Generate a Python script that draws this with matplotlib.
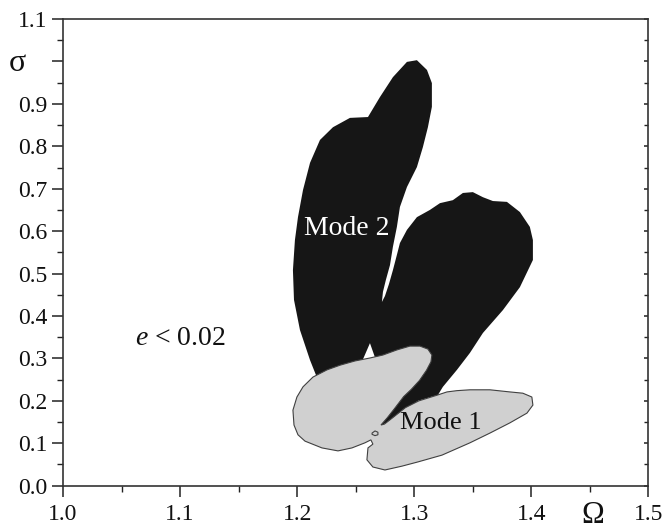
import matplotlib.pyplot as plt
from matplotlib.ticker import MultipleLocator

# region boundaries, (Omega, sigma)
mode2_omega = [1.2195, 1.211, 1.2024, 1.1973, 1.1964, 1.1981, 1.2007, 1.205, 1.211, 1.2195,
               1.2306, 1.2451, 1.2605, 1.2707, 1.2818, 1.2938, 1.3023, 1.3109, 1.3151, 1.3151,
               1.3117, 1.3074, 1.3023, 1.2938, 1.2878, 1.2852, 1.2818, 1.2793, 1.2758, 1.2733,
               1.2724, 1.275, 1.2784, 1.2818, 1.2852, 1.2878, 1.2938, 1.3023, 1.3134, 1.322,
               1.333, 1.3416, 1.3501, 1.3587, 1.3672, 1.3792, 1.3903, 1.3988, 1.4014, 1.4014,
               1.3903, 1.3758, 1.3587, 1.3476, 1.3365, 1.3245, 1.3203, 1.3032, 1.281, 1.2690,
               1.2800, 1.2950, 1.3060, 1.2878, 1.2673, 1.2622, 1.2553, 1.2365]
mode2_sigma = [0.237, 0.296, 0.367, 0.438, 0.508, 0.579, 0.633, 0.697, 0.761, 0.815,
               0.845, 0.867, 0.869, 0.916, 0.963, 0.999, 1.003, 0.980, 0.949, 0.893,
               0.845, 0.798, 0.751, 0.704, 0.657, 0.610, 0.563, 0.520, 0.485, 0.457,
               0.433, 0.447, 0.475, 0.508, 0.544, 0.572, 0.603, 0.633, 0.650, 0.666,
               0.673, 0.690, 0.692, 0.680, 0.671, 0.669, 0.645, 0.610, 0.579, 0.532,
               0.468, 0.414, 0.360, 0.313, 0.273, 0.233, 0.214, 0.200, 0.155, 0.138,
               0.190, 0.235, 0.270, 0.292, 0.296, 0.336, 0.292, 0.261]

mode1_omega = [1.2716, 1.2770, 1.2830, 1.2910, 1.2975, 1.3045, 1.3105, 1.3143, 1.3151, 1.3117,
               1.3049, 1.2963, 1.2852, 1.2733, 1.2622, 1.2494, 1.2366, 1.2255, 1.2135, 1.205,
               1.1998, 1.1964, 1.1973, 1.2007, 1.2067, 1.2212, 1.2349, 1.2468, 1.2579, 1.263,
               1.2647, 1.2605, 1.2596, 1.2647, 1.275, 1.2895, 1.3032, 1.3237, 1.3476, 1.3647,
               1.3817, 1.3963, 1.4014, 1.4005, 1.3928, 1.3817, 1.3647, 1.3476, 1.3365, 1.3280,
               1.3180, 1.3040, 1.2925, 1.2815, 1.2745]
mode1_sigma = [0.143, 0.160, 0.181, 0.210, 0.227, 0.248, 0.272, 0.292, 0.308, 0.322,
               0.329, 0.329, 0.320, 0.308, 0.301, 0.294, 0.284, 0.273, 0.256, 0.233,
               0.209, 0.178, 0.143, 0.120, 0.105, 0.089, 0.082, 0.089, 0.101, 0.108,
               0.098, 0.089, 0.061, 0.044, 0.037, 0.046, 0.056, 0.072, 0.101, 0.124,
               0.148, 0.171, 0.190, 0.209, 0.218, 0.221, 0.226, 0.226, 0.224, 0.221,
               0.212, 0.200, 0.184, 0.160, 0.145]

# tiny isolated loop near the spike tip
loop_omega = [1.2640, 1.2665, 1.2690, 1.2690, 1.2665, 1.2640]
loop_sigma = [0.124, 0.129, 0.126, 0.120, 0.118, 0.121]

serif = ['Liberation Serif', 'DejaVu Serif']
plt.rcParams['font.family'] = serif
plt.rcParams['mathtext.fontset'] = 'custom'
plt.rcParams['mathtext.it'] = 'Liberation Serif:italic'
plt.rcParams['mathtext.rm'] = 'Liberation Serif'

fig = plt.figure(figsize=(6.67, 5.29), dpi=100)
ax = fig.add_axes([0.0945, 0.0819, 0.8775, 0.8821])

ax.fill(mode2_omega, mode2_sigma, color='#161616', lw=0, zorder=2)
ax.fill(mode1_omega, mode1_sigma, facecolor='#d0d0d0', edgecolor='#404040', lw=0.8, zorder=3)
ax.fill(loop_omega, loop_sigma, facecolor='#d0d0d0', edgecolor='#404040', lw=0.8, zorder=4)

ax.text(1.2425, 0.607, 'Mode 2', color='white', fontsize=20, ha='center', va='center', zorder=5)
ax.text(1.2878, 0.148, 'Mode 1', color='#111111', fontsize=19, ha='left', va='center', zorder=5)
ax.text(1.0615, 0.346, r'$e$ < 0.02', color='#111111', fontsize=20, ha='left', va='center', zorder=5)

ax.set_xlim(1.0, 1.5)
ax.set_ylim(0.0, 1.1)
ax.xaxis.set_major_locator(MultipleLocator(0.1))
ax.xaxis.set_minor_locator(MultipleLocator(0.05))
ax.yaxis.set_major_locator(MultipleLocator(0.1))
ax.yaxis.set_minor_locator(MultipleLocator(0.05))
ax.xaxis.set_major_formatter(plt.FuncFormatter(lambda v, p: f'{v:.1f}'))
# the sigma symbol sits where the 1.0 label would be
ax.yaxis.set_major_formatter(plt.FuncFormatter(lambda v, p: '' if abs(v - 1.0) < 1e-6 else f'{v:.1f}'))

ax.tick_params(axis='both', which='major', direction='out', length=8, width=1.1,
               labelsize=17, color='#222222', labelcolor='#111111')
ax.tick_params(axis='both', which='minor', direction='out', length=4, width=1.0, color='#222222')
ax.tick_params(axis='y', which='both', right=True, labelright=False)
ax.tick_params(axis='y', which='major', pad=3)
ax.tick_params(axis='x', which='major', pad=5)
for t in ax.yaxis.get_major_ticks() + ax.yaxis.get_minor_ticks():
    t.tick2line.set_markersize(3)
    t.tick2line.set_marker(0)  # inward on the right spine

for s in ax.spines.values():
    s.set_color('#333333')
    s.set_linewidth(1.2)

fig.text(0.026, 0.880, 'σ', fontsize=23, ha='center', va='center', color='#111111')
fig.text(0.888, 0.052, 'Ω', fontsize=22, ha='center', va='top', color='#111111')

fig.savefig('out.png', dpi=100)
